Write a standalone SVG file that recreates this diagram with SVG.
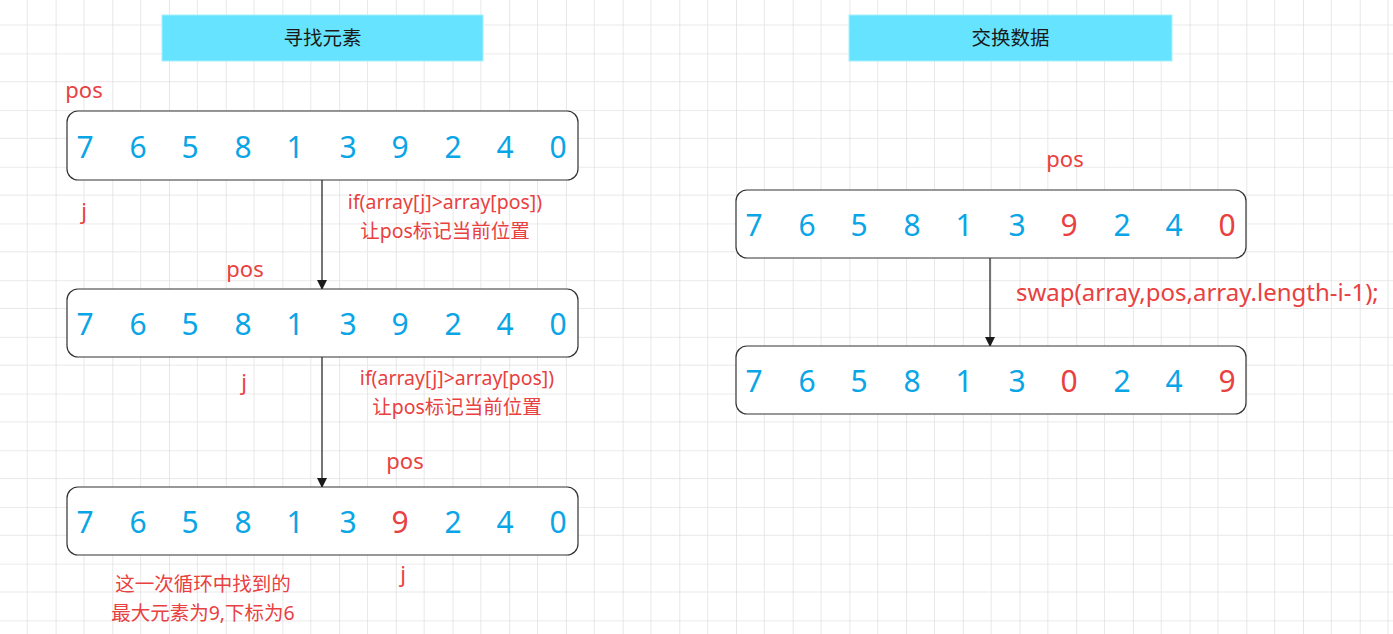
<svg xmlns="http://www.w3.org/2000/svg" width="1393" height="634" viewBox="0 0 1393 634">
<defs>
<pattern id="grid" x="-1.1" y="-3.35" width="56.7" height="56.7" patternUnits="userSpaceOnUse">
<path d="M28.35 0V56.7M0 28.35H56.7" stroke="#e8e8e8" stroke-width="1" fill="none"/>
<path d="M0 0V56.7M0 0H56.7" stroke="#d8d8d8" stroke-width="1.2" fill="none"/>
</pattern>
<marker id="arr" viewBox="0 0 10 10" refX="9" refY="5" markerWidth="10" markerHeight="10" markerUnits="userSpaceOnUse" orient="auto">
<path d="M0 0L10 5L0 10z" fill="#1a1a1a"/>
</marker>
<style>
.title{fill:#66e4ff;stroke:#a6efff;stroke-width:1}
.tt{font-family:"Noto Sans CJK SC","Noto Sans",sans-serif;font-size:19.5px;fill:#1a1a1a;text-anchor:middle}
.arr{fill:#fff;stroke:#333;stroke-width:1.2}
.n{font-family:"Noto Sans","Open Sans",sans-serif;font-size:30px;fill:#0aa5e6;text-anchor:middle}
.r{fill:#e8413f}
.lbl{font-family:"Noto Sans","Noto Sans CJK SC",sans-serif;font-size:22px;fill:#e8413f;text-anchor:middle}
.start{text-anchor:start;font-size:24px}
.cond{font-family:"Noto Sans","Noto Sans CJK SC",sans-serif;font-size:19.5px;fill:#e8413f;text-anchor:middle}
.edge{stroke:#1a1a1a;stroke-width:1.2;fill:none;marker-end:url(#arr)}
</style>
</defs>
<rect width="1393" height="634" fill="#fff"/>
<rect width="1393" height="634" fill="url(#grid)"/>

<g id="title1"><rect class="title" x="162" y="15" width="321" height="46"/><text class="tt" x="322.5" y="45">寻找元素</text></g>
<g id="title2"><rect class="title" x="849" y="15" width="323" height="46"/><text class="tt" x="1010.5" y="45">交换数据</text></g>

<g id="connectors">
<line class="edge" x1="322" y1="180" x2="322" y2="289"/>
<line class="edge" x1="322" y1="357" x2="322" y2="487"/>
<line class="edge" x1="990" y1="258" x2="990" y2="346"/>
</g>

<g id="array1"><rect class="arr" x="67" y="111" width="511" height="69" rx="11"/>
<text class="n" y="158"><tspan x="85">7</tspan><tspan x="138">6</tspan><tspan x="190">5</tspan><tspan x="243">8</tspan><tspan x="295">1</tspan><tspan x="348">3</tspan><tspan x="400">9</tspan><tspan x="453">2</tspan><tspan x="505">4</tspan><tspan x="558">0</tspan></text></g>

<g id="array2"><rect class="arr" x="67" y="289" width="511" height="68" rx="11"/>
<text class="n" y="335"><tspan x="85">7</tspan><tspan x="138">6</tspan><tspan x="190">5</tspan><tspan x="243">8</tspan><tspan x="295">1</tspan><tspan x="348">3</tspan><tspan x="400">9</tspan><tspan x="453">2</tspan><tspan x="505">4</tspan><tspan x="558">0</tspan></text></g>

<g id="array3"><rect class="arr" x="67" y="487" width="511" height="68" rx="11"/>
<text class="n" y="533"><tspan x="85">7</tspan><tspan x="138">6</tspan><tspan x="190">5</tspan><tspan x="243">8</tspan><tspan x="295">1</tspan><tspan x="348">3</tspan><tspan x="400" class="r">9</tspan><tspan x="453">2</tspan><tspan x="505">4</tspan><tspan x="558">0</tspan></text></g>

<g id="array4"><rect class="arr" x="736" y="190" width="510" height="68" rx="11"/>
<text class="n" y="236"><tspan x="754">7</tspan><tspan x="807">6</tspan><tspan x="859">5</tspan><tspan x="912">8</tspan><tspan x="964">1</tspan><tspan x="1017">3</tspan><tspan x="1069" class="r">9</tspan><tspan x="1122">2</tspan><tspan x="1174">4</tspan><tspan x="1227" class="r">0</tspan></text></g>

<g id="array5"><rect class="arr" x="736" y="346" width="510" height="68" rx="11"/>
<text class="n" y="392"><tspan x="754">7</tspan><tspan x="807">6</tspan><tspan x="859">5</tspan><tspan x="912">8</tspan><tspan x="964">1</tspan><tspan x="1017">3</tspan><tspan x="1069" class="r">0</tspan><tspan x="1122">2</tspan><tspan x="1174">4</tspan><tspan x="1227" class="r">9</tspan></text></g>

<g id="labels">
<text class="lbl" x="84" y="98">pos</text>
<text class="lbl" x="84" y="219">j</text>
<text class="lbl" x="245" y="277">pos</text>
<text class="lbl" x="244" y="390">j</text>
<text class="lbl" x="405" y="469">pos</text>
<text class="lbl" x="403" y="582">j</text>
<text class="lbl" x="1065" y="167">pos</text>
<text class="lbl start" x="1016" y="301">swap(array,pos,array.length-i-1);</text>
<text class="cond" x="445" y="209">if(array[j]&gt;array[pos])</text>
<text class="cond" x="445" y="238">让pos标记当前位置</text>
<text class="cond" x="457" y="385">if(array[j]&gt;array[pos])</text>
<text class="cond" x="457" y="414">让pos标记当前位置</text>
<text class="cond" x="203" y="591">这一次循环中找到的</text>
<text class="cond" x="203" y="620">最大元素为9,下标为6</text>
</g>
</svg>
